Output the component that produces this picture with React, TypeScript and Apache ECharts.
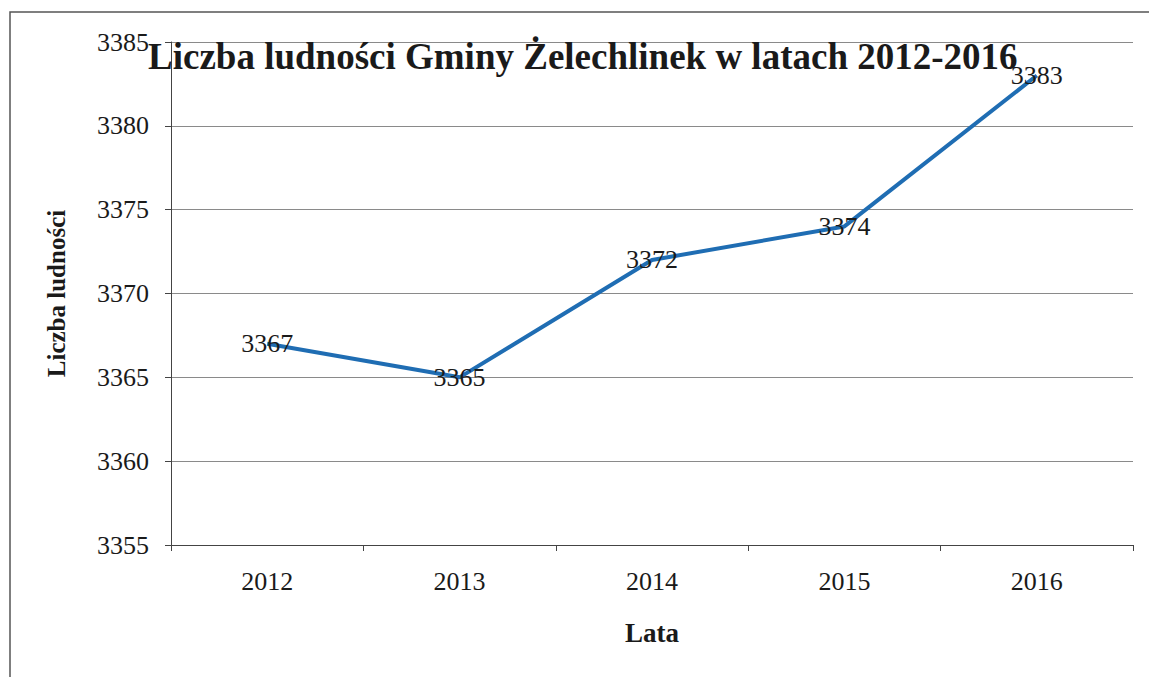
import React, { useEffect, useRef } from "react";
import * as echarts from "echarts";

const years = ["2012", "2013", "2014", "2015", "2016"];
const population = [3367, 3365, 3372, 3374, 3383];
const titleText = "Liczba ludności Gminy Żelechlinek w latach 2012-2016";
const yAxisName = "Liczba ludności";
const xAxisName = "Lata";

export default function App() {
  const ref = useRef<HTMLDivElement>(null);
  useEffect(() => {
    document.body.style.margin = "0";
    const chart = echarts.init(ref.current!, null, { renderer: "svg" });
    const serif = "'Liberation Serif', 'Times New Roman', serif";
    chart.setOption({
      animation: false,
      backgroundColor: "#ffffff",
      textStyle: { fontFamily: serif },
      title: {
        text: titleText,
        left: 143,
        top: 33,
        textStyle: { fontFamily: serif, fontSize: 37, fontWeight: "bold", color: "#1a1a1a" },
      },
      graphic: [
        {
          type: "rect",
          shape: { x: 10, y: 12, width: 1160, height: 700 },
          style: { fill: "none", stroke: "#555", lineWidth: 1.5 },
          silent: true,
        },
      ],
      grid: { left: 171, right: 16, top: 42, bottom: 132 },
      xAxis: {
        type: "category",
        data: years,
        boundaryGap: true,
        name: xAxisName,
        nameLocation: "middle",
        nameGap: 74,
        nameTextStyle: { fontFamily: serif, fontSize: 27, fontWeight: "bold", color: "#1a1a1a" },
        axisLine: { lineStyle: { color: "#444", width: 1 } },
        axisTick: { show: true, length: 6, lineStyle: { color: "#444" } },
        axisLabel: { fontFamily: serif, fontSize: 26, color: "#1a1a1a", margin: 23 },
      },
      yAxis: {
        type: "value",
        min: 3355,
        max: 3385,
        interval: 5,
        name: yAxisName,
        nameLocation: "middle",
        nameGap: 102,
        nameTextStyle: { fontFamily: serif, fontSize: 25, fontWeight: "bold", color: "#1a1a1a" },
        axisLine: { show: true, lineStyle: { color: "#444", width: 1 } },
        axisTick: { show: true, length: 6, lineStyle: { color: "#444" } },
        axisLabel: {
          fontFamily: serif,
          fontSize: 26,
          color: "#1a1a1a",
          margin: 22,
          formatter: (v: number) => String(v),
        },
        splitLine: { show: true, lineStyle: { color: "#8a8a8a", width: 1 } },
      },
      series: [
        {
          type: "line",
          data: population,
          symbol: "circle",
          symbolSize: 2,
          showSymbol: true,
          itemStyle: { color: "transparent", borderWidth: 0 },
          lineStyle: { color: "#1f6db3", width: 4 },
          label: {
            show: true,
            position: "inside",
            fontFamily: serif,
            fontSize: 26,
            color: "#1a1a1a",
            formatter: (p: any) => String(p.value),
          },
        },
      ],
    });
    return () => chart.dispose();
  }, []);
  return <div ref={ref} style={{ width: 1149, height: 677 }} />;
}
